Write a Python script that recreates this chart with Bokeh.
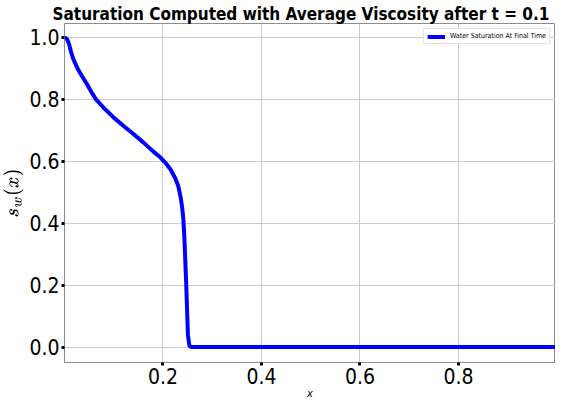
from bokeh.plotting import figure
from bokeh.models import Range1d, FixedTicker, Legend, LegendItem, TeX, PrintfTickFormatter
from bokeh.embed import file_html
from bokeh.resources import INLINE

# data
x_vals = [0.0, 0.005, 0.009, 0.013, 0.018, 0.027, 0.036, 0.046, 0.055, 0.064,
          0.08, 0.10, 0.12, 0.14, 0.16, 0.18, 0.195, 0.205, 0.215, 0.225,
          0.231, 0.236, 0.239, 0.2415, 0.2435, 0.247, 0.2506, 0.2535, 0.257,
          0.4, 0.6, 0.8, 1.0]
s_vals = [1.0, 0.995, 0.98, 0.955, 0.93, 0.898, 0.874, 0.848, 0.823, 0.80,
          0.772, 0.741, 0.714, 0.688, 0.661, 0.632, 0.612, 0.595, 0.574, 0.545,
          0.52, 0.482, 0.45, 0.41, 0.35, 0.21, 0.04, 0.005, 0.0,
          0.0, 0.0, 0.0, 0.0]
x_ticks = [0.2, 0.4, 0.6, 0.8]
y_ticks = [0.0, 0.2, 0.4, 0.6, 0.8, 1.0]
title_text = "Saturation Computed with Average Viscosity after t = 0.1"
legend_label = "Water Saturation At Final Time"

FONT = "DejaVu Sans Condensed"

p = figure(width=555, height=402, output_backend="svg", toolbar_location=None,
           x_range=Range1d(0.0, 0.997), y_range=Range1d(-0.05, 1.045),
           min_border_left=50, min_border_right=0, min_border_top=23,
           min_border_bottom=34)

p.title.text = title_text
p.title.text_font = FONT
p.title.text_font_size = "17px"
p.title.text_font_style = "bold"
p.title.text_color = "black"
p.title.align = "left"
p.title.offset = -12
p.title.standoff = 0

r = p.line(x_vals, s_vals, line_color="#0000ff", line_width=4)

p.outline_line_color = "#8c8c8c"
p.outline_line_width = 1
for ax in (p.xaxis[0], p.yaxis[0]):
    ax.axis_line_color = "#8c8c8c"
    ax.major_tick_line_color = "black"
    ax.major_tick_line_width = 3
    ax.major_tick_out = 3
    ax.major_tick_in = 0
    ax.minor_tick_line_color = None
    ax.major_label_text_font = FONT
    ax.major_label_text_font_size = "21px"
    ax.major_label_text_color = "black"
    ax.major_label_standoff = 2
    ax.formatter = PrintfTickFormatter(format="%.1f")

p.xaxis.ticker = FixedTicker(ticks=x_ticks)
p.yaxis.ticker = FixedTicker(ticks=y_ticks)
p.xaxis.axis_label = "x"
p.xaxis.axis_label_text_font = FONT
p.xaxis.axis_label_text_font_size = "11px"
p.xaxis.axis_label_text_font_style = "italic"
p.xaxis.axis_label_text_color = "black"
p.xaxis.axis_label_standoff = 0
p.yaxis.axis_label = TeX(text=r"s_w(x)")
p.yaxis.axis_label_text_font_size = "16px"
p.yaxis.axis_label_text_color = "black"
p.yaxis.axis_label_standoff = 3

p.xgrid.grid_line_color = "#cccccc"
p.ygrid.grid_line_color = "#cccccc"
p.xgrid.ticker = FixedTicker(ticks=x_ticks)
p.ygrid.ticker = FixedTicker(ticks=y_ticks)

legend = Legend(items=[LegendItem(label=legend_label, renderers=[r])],
                location="top_right", label_text_font=FONT,
                label_text_font_size="7px", label_text_color="black",
                glyph_width=18, glyph_height=7,
                padding=3, margin=5, spacing=0, label_standoff=5,
                border_line_color="#cccccc", label_height=7)
p.add_layout(legend)

open("out.html", "w").write(file_html(p, INLINE))
